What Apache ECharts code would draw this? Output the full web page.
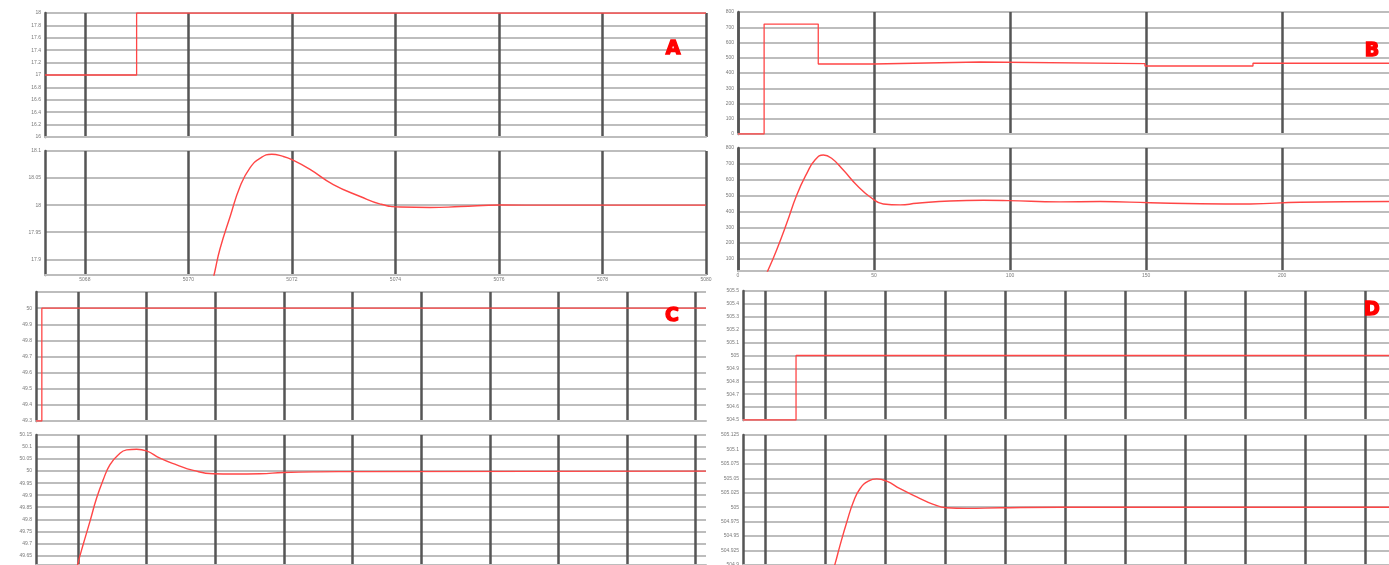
<!DOCTYPE html>
<html><head><meta charset="utf-8">
<script src="https://cdn.jsdelivr.net/npm/echarts@6/dist/echarts.min.js"></script>
<style>html,body{margin:0;padding:0;background:#fff}#c{width:1389px;height:565px}</style>
</head><body><div id="c"></div>
<script>
// ---------- Panel A ----------
const aXTicks = [5068, 5070, 5072, 5074, 5076, 5078, 5080];
const aTopT = [5067.23, 5069.0, 5080];
const aTopV = [17, 18, 18];
const aRespYTicks = [17.9, 17.95, 18, 18.05, 18.1];
const aRespT = [5070.42, 5070.51, 5070.61, 5070.81, 5071.0, 5071.19, 5071.39, 5071.61, 5071.83, 5072.0, 5072.35, 5072.8, 5073.32, 5073.71, 5074.09, 5074.67, 5075.25, 5076.03, 5076.99, 5077.96, 5080];
const aRespV = [17.84, 17.877, 17.919, 17.98, 18.035, 18.069, 18.087, 18.094, 18.090, 18.084, 18.066, 18.038, 18.016, 18.002, 17.9965, 17.9956, 17.9974, 18.0002, 18.0, 18.0, 18.0];
// ---------- Panel B ----------
const bXTicks = [0, 50, 100, 150, 200];
const bTopT = [0, 9.6, 29.5, 49.8, 89, 149.6, 189.3, 239.3];
const bTopV = [0, 721, 459, 472, 461, 446, 464, 464];
const bRespYTicks = [100, 200, 300, 400, 500, 600, 700, 800];
const bRespT = [9.6, 11.1, 14.2, 17.9, 21.6, 25.3, 28.3, 31.4, 34.4, 38.7, 43.6, 49.2, 53.4, 59.6, 65.7, 77.9, 90.2, 99.4, 118.4, 133.1, 151.5, 169.9, 188.2, 206.6, 239.3];
const bRespV = [-20, 31, 157, 325, 504, 640, 724, 756, 735, 661, 567, 483, 447, 441, 451, 466, 470, 468, 460, 462, 455, 448, 447, 458, 462];
// ---------- Panel C ----------
const cXTicks = [0, 1, 2, 3, 4, 5, 6, 7, 8, 9];
const cTopT = [-0.61, -0.525, 9.15];
const cTopV = [49.3, 50, 50];
const cRespYTicks = [49.65, 49.7, 49.75, 49.8, 49.85, 49.9, 49.95, 50, 50.05, 50.1, 50.15];
const cRespT = [-0.05, 0.004, 0.077, 0.175, 0.273, 0.369, 0.466, 0.587, 0.71, 0.856, 1.0, 1.195, 1.439, 1.681, 1.972, 2.264, 2.653, 2.993, 3.48, 4.11, 9.15];
const cRespV = [49.55, 49.62, 49.695, 49.79, 49.888, 49.964, 50.026, 50.067, 50.088, 50.091, 50.084, 50.054, 50.026, 50.003, 49.989, 49.988, 49.989, 49.994, 49.997, 49.998, 50.0];
// ---------- Panel D ----------
const dXTicks = [0, 1, 2, 3, 4, 5, 6, 7, 8, 9, 10];
const dTopT = [-0.367, 0.517, 10.4];
const dTopV = [504.5, 505, 505];
const dRespT = [1.1, 1.167, 1.25, 1.362, 1.472, 1.583, 1.722, 1.862, 2.028, 2.25, 2.528, 2.805, 3.028, 3.362, 3.917, 4.917, 10.4];
const dRespV = [504.88, 504.902, 504.934, 504.974, 505.009, 505.032, 505.045, 505.049, 505.045, 505.032, 505.018, 505.005, 504.999, 504.998, 504.999, 505.0, 505.0];
const panelLetters = ['A', 'B', 'C', 'D'];

const chart = echarts.init(document.getElementById('c'), null, {renderer: 'canvas'});
const grids = [], xAxes = [], yAxes = [], series = [];
const RED = '#ff4646', HGRID = '#bdbdbd', VGRID = '#555555', LBL = '#7a7a7a';
function pairs(t, v) { return t.map((x, i) => [x, v[i]]); }
function addPanel(rect, xc, yc, t, v, isStep, showXLabels) {
  const i = grids.length;
  grids.push({left: rect[0], top: rect[1], width: rect[2], height: rect[3], containLabel: false, outerBoundsMode: 'none'});
  const xa = {gridIndex: i, type: 'value', min: xc.min, max: xc.max,
    axisLine: {show: true, onZero: false, lineStyle: {color: HGRID, width: 2}},
    axisTick: {show: false, customValues: xc.ticks},
    axisLabel: {show: !!showXLabels, fontSize: 5, color: LBL, margin: 2, customValues: xc.ticks, formatter: v => String(v)},
    splitLine: {show: true, lineStyle: {color: VGRID, width: 2.5}}};
  xAxes.push(xa);
  const ya = {gridIndex: i, type: 'value', min: yc.min, max: yc.max,
    axisLine: {show: true, onZero: false, lineStyle: {color: VGRID, width: 2.5}},
    axisTick: {show: false},
    axisLabel: {show: true, fontSize: 5, color: LBL, margin: 4, formatter: yc.fmt},
    splitLine: {show: true, lineStyle: {color: HGRID, width: 2}}};
  if (yc.ticks) { ya.axisTick.customValues = yc.ticks; ya.axisLabel.customValues = yc.ticks; }
  if (yc.interval) ya.interval = yc.interval;
  yAxes.push(ya);
  series.push({type: 'line', xAxisIndex: i, yAxisIndex: i, data: pairs(t, v), showSymbol: false,
    step: isStep ? 'end' : false, smooth: isStep ? false : 0.5, clip: true,
    lineStyle: {color: RED, width: isStep ? 1.3 : 1.4}, silent: true, animation: false});
}
// A
addPanel([45, 13, 661, 124], {min: 5067.23, max: 5080, ticks: aXTicks}, {min: 16, max: 18, interval: 0.2}, aTopT, aTopV, true, false);
addPanel([45, 151, 661, 124], {min: 5067.23, max: 5080, ticks: aXTicks}, {min: 17.871, max: 18.1, ticks: aRespYTicks}, aRespT, aRespV, false, true);
// B
addPanel([738, 12, 651, 122], {min: 0, max: 239.3, ticks: bXTicks}, {min: 0, max: 800, interval: 100}, bTopT, bTopV, true, false);
addPanel([738, 148, 651, 123], {min: 0, max: 239.3, ticks: bXTicks}, {min: 24, max: 800, ticks: bRespYTicks}, bRespT, bRespV, false, true);
// C
addPanel([36, 292, 670, 129], {min: -0.61, max: 9.15, ticks: cXTicks}, {min: 49.3, max: 50.1, interval: 0.1, fmt: v => (Math.abs(v - 50.1) < 1e-6 ? '' : String(+v.toFixed(2)))}, cTopT, cTopV, true, false);
addPanel([36, 435, 670, 130], {min: -0.61, max: 9.15, ticks: cXTicks}, {min: 49.61, max: 50.15, ticks: cRespYTicks}, cRespT, cRespV, false, false);
// D
addPanel([743, 291, 646, 129], {min: -0.367, max: 10.4, ticks: dXTicks}, {min: 504.5, max: 505.5, interval: 0.1}, dTopT, dTopV, true, false);
addPanel([743, 435, 646, 130], {min: -0.367, max: 10.4, ticks: dXTicks}, {min: 504.9, max: 505.125, interval: 0.025}, dRespT, dRespV, false, false);

const letterPos = [[673, 49], [1372, 51], [672, 316], [1372, 310]];
const graphic = panelLetters.map((L, k) => ({type: 'text', x: letterPos[k][0], y: letterPos[k][1], z: 100,
  style: {text: L, fill: '#ff0000', stroke: '#ff0000', lineWidth: 1.4, font: '900 19px "DejaVu Sans"', align: 'center', verticalAlign: 'middle'}}));

chart.setOption({animation: false, backgroundColor: '#ffffff', grid: grids, xAxis: xAxes, yAxis: yAxes, series: series, graphic: graphic});
</script></body></html>
